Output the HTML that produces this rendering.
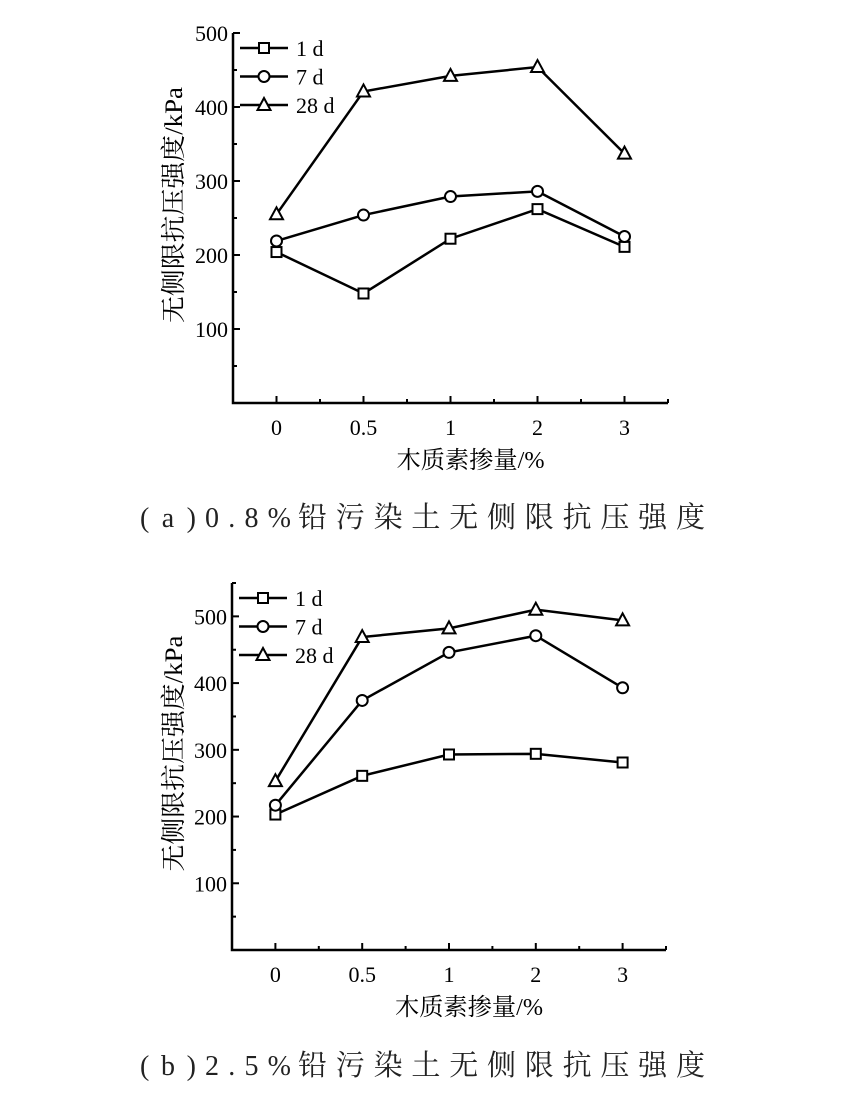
<!DOCTYPE html>
<html><head><meta charset="utf-8"><style>
html,body{margin:0;padding:0;background:#fff;}
svg{display:block;}
</style></head><body>
<svg id="fig" width="854" height="1105" viewBox="0 0 854 1105" xmlns="http://www.w3.org/2000/svg"></svg>
<script>
const categories = ["0","0.5","1","2","3"];
const seriesNames = ["1 d","7 d","28 d"];
const markers = ["square","circle","triangle"];
const a1d = [204,148,222,262,211];
const a7d = [219,254,279,286,225];
const a28d = [255,421,442,454,337];
const b1d = [203,261,293,294,281];
const b7d = [217,374,446,471,393];
const b28d = [253,469,482,510,494];
const aTicks = [100,200,300,400,500];
const bTicks = [100,200,300,400,500];
const aMax = 500, bMax = 550;

const NS = "http://www.w3.org/2000/svg";
const svg = document.getElementById('fig');
function mk(tag, attrs, parent){const e=document.createElementNS(NS,tag);for(const k in attrs)e.setAttribute(k,attrs[k]);(parent||svg).appendChild(e);return e;}

function marker(g, type, x, y){
  let m;
  if(type==="square") m=mk('rect',{x:x-5,y:y-5,width:10,height:10,fill:'#fff',stroke:'#000','stroke-width':2},g);
  else if(type==="circle") m=mk('circle',{cx:x,cy:y,r:5.5,fill:'#fff',stroke:'#000','stroke-width':2},g);
  else m=mk('polygon',{points:`${x},${y-7} ${x-6.5},${y+5} ${x+6.5},${y+5}`,fill:'#fff',stroke:'#000','stroke-width':2},g);
  return m;
}

function chart(cfg){
  const {left,right,top,bottom,ymax,ticks,series,legendY,capA,capB,capCJK,capY,id} = cfg;
  const g = mk('g',{});
  
  
  const xs = i => left + (i+0.5)*(right-left)/5;
  const ys = v => bottom - v*(bottom-top)/ymax;
  const ax = mk('path',{d:`M${left},${top} L${left},${bottom} L${right},${bottom}`,fill:'none',stroke:'#000','stroke-width':2.5},g);
  
  
  for(let v=50; v<=ymax; v+=50){
    const major = v%100===0;
    mk('line',{x1:left,x2:left+(major?7:4),y1:ys(v),y2:ys(v),stroke:'#000','stroke-width':2},g);
  }
  ticks.forEach(v=>{
    const t=mk('text',{x:left-5,y:ys(v)+8,'text-anchor':'end','font-family':'Liberation Serif, serif','font-size':22},g);
    t.textContent=v;
    
    
  });
  for(let i=0;i<5;i++){
    mk('line',{x1:xs(i),x2:xs(i),y1:bottom,y2:bottom-7,stroke:'#000','stroke-width':2},g);
    mk('line',{x1:xs(i)+(right-left)/10,x2:xs(i)+(right-left)/10,y1:bottom,y2:bottom-4,stroke:'#000','stroke-width':2},g);
    const t=mk('text',{x:xs(i),y:bottom+32,'text-anchor':'middle','font-family':'Liberation Serif, serif','font-size':22},g);
    t.textContent=categories[i];
    
    
  }
  const xt=mk('text',{x:(left+right)/2+20,y:bottom+65,'text-anchor':'middle','font-family':'Liberation Serif, Noto Serif CJK SC, serif','font-size':24,textLength:148,lengthAdjust:'spacingAndGlyphs'},g);
  xt.textContent='木质素掺量/%';
  
  
  const cy=(top+bottom)/2-13;
  const yt=mk('text',{x:0,y:0,transform:`translate(182,${cy}) rotate(-90)`,'text-anchor':'middle','font-family':'Liberation Serif, Noto Serif CJK SC, serif','font-size':25,textLength:236,lengthAdjust:'spacingAndGlyphs'},g);
  yt.textContent='无侧限抗压强度/kPa';
  
  
  series.forEach((vals,si)=>{
    const sg=mk('g',{},g);
    
    
    mk('polyline',{points:vals.map((v,i)=>`${xs(i)},${ys(v)}`).join(' '),fill:'none',stroke:'#000','stroke-width':2.5},sg);
    vals.forEach((v,i)=>{
      const m=marker(sg,markers[si],xs(i),ys(v));
      
      
    });
    const ly=legendY+si*28.5;
    const lg=mk('g',{},g);
    
    
    mk('line',{x1:left+7,x2:left+55,y1:ly,y2:ly,stroke:'#000','stroke-width':2.5},lg);
    marker(lg,markers[si],left+31,ly);
    const lt=mk('text',{x:left+63,y:ly+8,'font-family':'Liberation Serif, serif','font-size':22},lg);
    lt.textContent=seriesNames[si];
  });
  const c=mk('text',{x:140,y:capY,'font-family':'Liberation Serif, Noto Serif CJK SC, serif','font-size':28,fill:'#222'},g);
  
  
  const t1=mk('tspan',{x:140,textLength:56,lengthAdjust:'spacing'},c);
  t1.textContent=capA;
  const t1b=mk('tspan',{x:205,textLength:86,lengthAdjust:'spacing'},c);
  t1b.textContent=capB;
  const t2=mk('tspan',{x:298,textLength:407,lengthAdjust:'spacing','font-family':'Noto Serif CJK SC, serif','font-size':29},c);
  t2.textContent=capCJK;
}

chart({id:'a',left:233,right:668,top:33,bottom:403,ymax:aMax,ticks:aTicks,series:[a1d,a7d,a28d],legendY:48,capA:'(a)',capB:'0.8%',capCJK:'铅污染土无侧限抗压强度',capY:527});
chart({id:'b',left:232,right:666,top:583,bottom:950,ymax:bMax,ticks:bTicks,series:[b1d,b7d,b28d],legendY:598,capA:'(b)',capB:'2.5%',capCJK:'铅污染土无侧限抗压强度',capY:1075});
</script>
</body></html>
